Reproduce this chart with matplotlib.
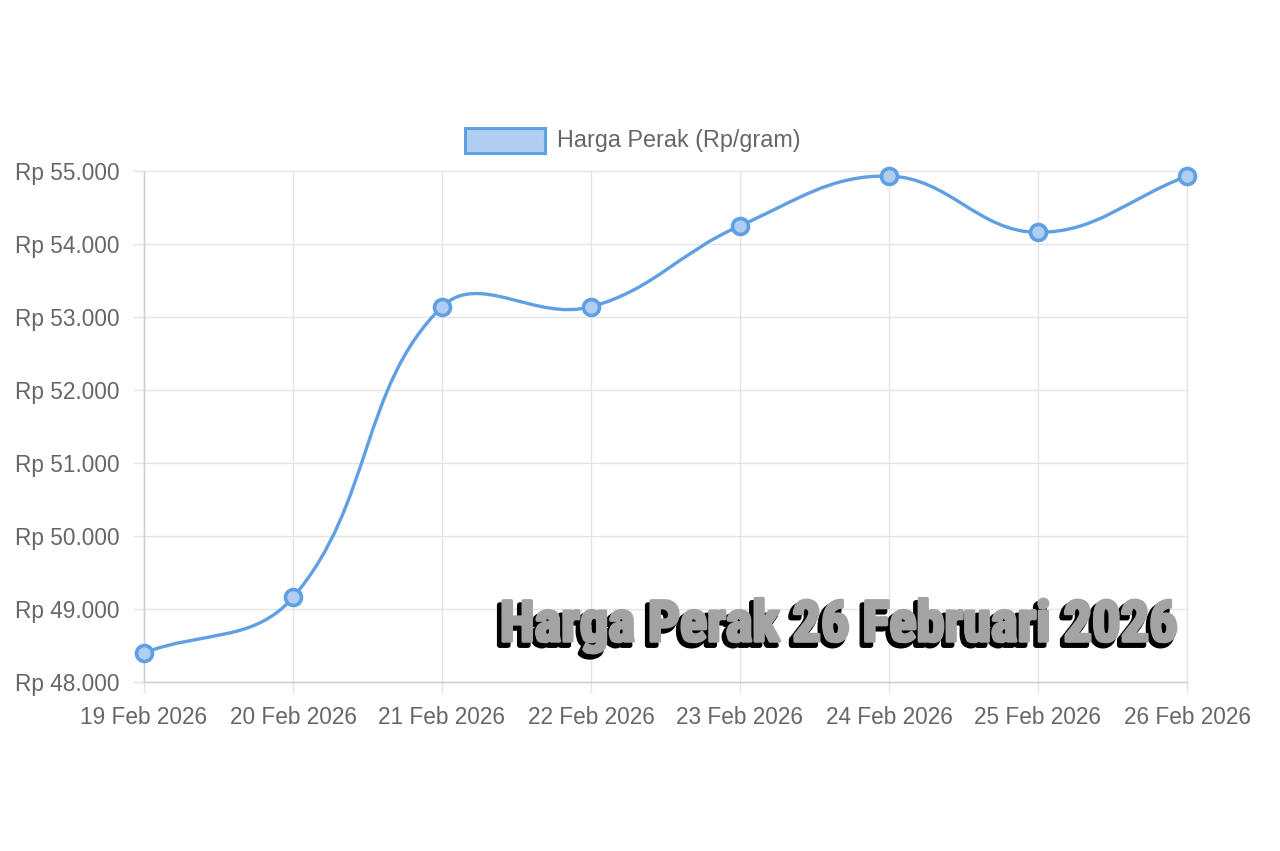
import numpy as np
import matplotlib
matplotlib.use("Agg")
import matplotlib.pyplot as plt
from matplotlib.path import Path
from matplotlib.patches import PathPatch, Rectangle
import matplotlib.patheffects as pe
from matplotlib import font_manager as fm

# ---- data ----
dates = ["19 Feb 2026", "20 Feb 2026", "21 Feb 2026", "22 Feb 2026",
         "23 Feb 2026", "24 Feb 2026", "25 Feb 2026", "26 Feb 2026"]
prices = [48400, 49160, 53140, 53140, 54250, 54930, 54160, 54930]
y_ticks = [48000, 49000, 50000, 51000, 52000, 53000, 54000, 55000]
series_label = "Harga Perak (Rp/gram)"
overlay_title = "Harga Perak 26 Februari 2026"

LINE = "#5f9fe3"
FILL = "#b0cff0"
TXT = "#666666"
GRID = "#e4e4e4"

W, H = 1280, 851
fig = plt.figure(figsize=(W / 100, H / 100), dpi=100)
fig.patch.set_facecolor("white")

left, right, top, bottom = 144, 1187, 171, 682
ax = fig.add_axes([left / W, 1 - bottom / H, (right - left) / W, (bottom - top) / H])
ax.set_facecolor("white")

x = np.arange(len(dates), dtype=float)
y = np.array(prices, dtype=float)
ax.set_xlim(0, len(dates) - 1)
ax.set_ylim(y_ticks[0], y_ticks[-1])

# Chart.js style spline (tension 0.4), distances in pixel space
sx = (right - left) / (len(dates) - 1)
sy = (bottom - top) / (y_ticks[-1] - y_ticks[0])
t = 0.4
n = len(x)
cp_prev, cp_next = [], []
for i in range(n):
    p0 = (x[max(i - 1, 0)], y[max(i - 1, 0)])
    p1 = (x[i], y[i])
    p2 = (x[min(i + 1, n - 1)], y[min(i + 1, n - 1)])
    d01 = np.hypot((p1[0] - p0[0]) * sx, (p1[1] - p0[1]) * sy)
    d12 = np.hypot((p2[0] - p1[0]) * sx, (p2[1] - p1[1]) * sy)
    tot = d01 + d12
    s01 = d01 / tot if tot else 0
    s12 = d12 / tot if tot else 0
    fa, fb = t * s01, t * s12
    dx, dy = p2[0] - p0[0], p2[1] - p0[1]
    cp_prev.append((p1[0] - fa * dx, p1[1] - fa * dy))
    cp_next.append((p1[0] + fb * dx, p1[1] + fb * dy))

verts = [(x[0], y[0])]
codes = [Path.MOVETO]
for i in range(n - 1):
    verts += [cp_next[i], cp_prev[i + 1], (x[i + 1], y[i + 1])]
    codes += [Path.CURVE4] * 3
ax.add_patch(PathPatch(Path(verts, codes), facecolor="none", edgecolor=LINE,
                       linewidth=2.4, zorder=3, clip_on=False))
ax.plot(x, y, linestyle="none", marker="o", markersize=11.5,
        markerfacecolor=FILL, markeredgecolor=LINE, markeredgewidth=2.6,
        zorder=4, clip_on=False)

# axes styling
ax.set_xticks(x)
ax.set_xticklabels(dates)
ax.set_yticks(y_ticks)
ax.set_yticklabels(["Rp " + f"{v:,}".replace(",", ".") for v in y_ticks])
ax.grid(True, color=GRID, linewidth=1.0, zorder=0)
for gl in ax.get_xgridlines() + ax.get_ygridlines():
    gl.set_clip_on(False)
ax.set_axisbelow(True)
for s in ["top", "right"]:
    ax.spines[s].set_visible(False)
for s in ["left", "bottom"]:
    ax.spines[s].set_color("#cfcfcf")
    ax.spines[s].set_linewidth(1.0)
ax.tick_params(axis="both", colors=GRID, labelcolor=TXT, labelsize=16.3,
               length=8, width=1.0)
ax.tick_params(axis="y", pad=9.5)
ax.tick_params(axis="x", pad=9.5)
for lab in ax.get_xticklabels() + ax.get_yticklabels():
    lab.set_fontfamily(["Liberation Sans", "DejaVu Sans"])

# legend (manual, Chart.js style)
fig.patches.append(Rectangle((465 / W, 1 - 153 / H), 80 / W, 25 / H,
                             transform=fig.transFigure, facecolor=FILL,
                             edgecolor=LINE, linewidth=2.2))
fig.text(557 / W, 1 - 140 / H, series_label, ha="left", va="center",
         fontsize=16.8, color=TXT, family=["Liberation Sans", "DejaVu Sans"])

# overlay watermark title: pick a condensed heavy font if available
names = {f.name for f in fm.fontManager.ttflist}
fam = "DejaVu Sans"
for cand in ["Liberation Sans Narrow", "Roboto Condensed", "DejaVu Sans Condensed",
             "Open Sans Condensed", "Roboto", "Inter"]:
    if cand in names:
        fam = cand
        break
weight = "black" if fam in ("Roboto", "Inter", "Roboto Condensed") else "bold"

ov = fig.text(839 / W, 1 - 626 / H, overlay_title, ha="center", va="center",
              fontsize=34, fontweight=weight, color="#a3a3a3",
              family=[fam, "DejaVu Sans"], zorder=10)
fig.canvas.draw()
bb = ov.get_window_extent()
target_w = 1178 - 500
ov.set_fontsize(34 * target_w / bb.width)
ov.set_path_effects([
    pe.withStroke(linewidth=4, foreground="black", offset=(-2.5, -3)),
    pe.withStroke(linewidth=2.5, foreground="#a3a3a3"),
])

fig.savefig("out.png", dpi=100, facecolor="white")
